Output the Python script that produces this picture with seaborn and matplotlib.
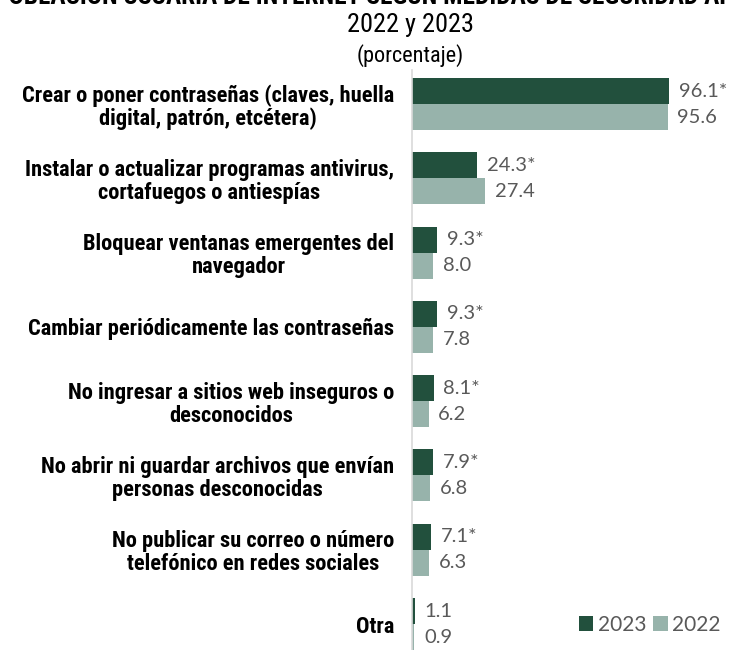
import matplotlib
matplotlib.use("Agg")
import matplotlib.pyplot as plt
from matplotlib.patches import Patch
import pandas as pd
import seaborn as sns

# Security measures applied by internet users, 2022 vs 2023 (%)
categories = [
    "Crear o poner contraseñas (claves, huella\ndigital, patrón, etcétera)",
    "Instalar o actualizar programas antivirus,\ncortafuegos o antiespías",
    "Bloquear ventanas emergentes del\nnavegador",
    "Cambiar periódicamente las contraseñas",
    "No ingresar a sitios web inseguros o\ndesconocidos",
    "No abrir ni guardar archivos que envían\npersonas desconocidas",
    "No publicar su correo o número\ntelefónico en redes sociales",
    "Otra",
]
values_2023 = [96.1, 24.3, 9.3, 9.3, 8.1, 7.9, 7.1, 1.1]
values_2022 = [95.6, 27.4, 8.0, 7.8, 6.2, 6.8, 6.3, 0.9]
# statistically significant change marker for 2023
marks_2023 = ["*", "*", "*", "*", "*", "*", "*", ""]
years = ["2023", "2022"]
colors = ["#22503d", "#97b3ab"]

title = "POBLACIÓN USUARIA DE INTERNET SEGÚN MEDIDAS DE SEGURIDAD APLICADAS"
subtitle = "2022 y 2023"
unit = "(porcentaje)"

sns.set_theme(style="white")
narrow = ["Roboto Condensed", "Liberation Sans", "DejaVu Sans"]
num_font = ["Lato", "DejaVu Sans"]
plt.rcParams["font.family"] = narrow

df = pd.DataFrame({
    "Medida": categories * 2,
    "Año": [years[0]] * len(categories) + [years[1]] * len(categories),
    "Porcentaje": values_2023 + values_2022,
})

W, H = 733, 650
fig = plt.figure(figsize=(W / 100, H / 100), dpi=100)
ax = fig.add_axes([412 / W, 0, (W - 412) / W, 580 / H])

sns.barplot(
    data=df, y="Medida", x="Porcentaje", hue="Año", hue_order=years,
    palette=colors, orient="h", width=0.70, saturation=1,
    errorbar=None, legend=False, linewidth=0, ax=ax,
)

ax.set_xlim(0, (W - 412) / 2.674)
ax.set_ylim(7.35, -0.458)

label_color = "#595959"
ax.bar_label(ax.containers[0],
             labels=[f"{v:.1f}{m}" for v, m in zip(values_2023, marks_2023)],
             padding=7, fontsize=14.5, color=label_color, family=num_font)
ax.bar_label(ax.containers[1],
             labels=[f"{v:.1f}" for v in values_2022],
             padding=7, fontsize=14.5, color=label_color, family=num_font)

ax.set_xlabel("")
ax.set_ylabel("")
ax.set_xticks([])
ax.tick_params(axis="y", length=0, pad=13)
for t in ax.get_yticklabels():
    t.set_multialignment("center")
    t.set_fontsize(16.2)
    t.set_fontweight("bold")
    t.set_color("black")
    t.set_linespacing(1.05)

for side in ["top", "right", "bottom"]:
    ax.spines[side].set_visible(False)
ax.spines["left"].set_color("#d9d9d9")
ax.spines["left"].set_linewidth(1.2)

cx = 410 / W
fig.text(cx, 1 - 4 / H, title, ha="center", va="baseline",
         fontsize=18.3, fontweight="bold", color="black")
fig.text(cx, 1 - 25 / H, subtitle, ha="center", va="center",
         fontsize=19, color="black")
fig.text(cx, 1 - 56 / H, unit, ha="center", va="center",
         fontsize=16, color="black")

handles = [Patch(facecolor=c, edgecolor="none", label=y) for c, y in zip(colors, years)]
fig.legend(handles=handles, loc="center right",
           bbox_to_anchor=(731 / W, 1 - 625 / H), ncol=2, frameon=False,
           handlelength=0.7, handleheight=0.7, handletextpad=0.2,
           columnspacing=0.35, labelcolor=label_color, borderpad=0,
           prop={"family": num_font, "size": 15})

fig.savefig("out.png", dpi=100)
